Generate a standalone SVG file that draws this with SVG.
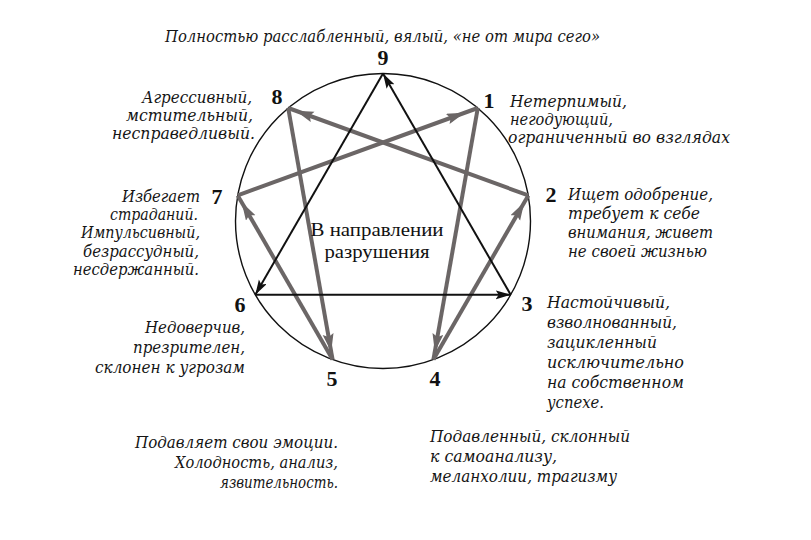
<svg xmlns="http://www.w3.org/2000/svg" width="811" height="540" viewBox="0 0 811 540">
<style>
.desc{font-family:"DejaVu Serif","Liberation Serif",serif;font-style:italic;font-size:16px;fill:#151515}
.num{font-family:"Liberation Serif","DejaVu Serif",serif;font-weight:bold;font-size:22px;fill:#111;text-anchor:middle}
.center{font-family:"Liberation Serif","DejaVu Serif",serif;font-size:18px;fill:#111;text-anchor:middle}
.end{text-anchor:end}
.blk{stroke:#111;stroke-width:2;fill:none}
.gry{stroke:#6b6666;stroke-width:4;fill:none}
</style>
<defs>
<marker id="ab" markerUnits="userSpaceOnUse" markerWidth="16" markerHeight="10" refX="15" refY="4.5" orient="auto">
<path d="M0,0 L15,4.5 L0,9 L3,4.5 z" fill="#111"/>
</marker>
<marker id="ag" markerUnits="userSpaceOnUse" markerWidth="30" markerHeight="12" refX="26" refY="5.5" orient="auto">
<path d="M0,0 L18,5.5 L0,11 L3,5.5 z" fill="#6b6666"/>
</marker>
<marker id="ag2" markerUnits="userSpaceOnUse" markerWidth="40" markerHeight="12" refX="32" refY="5.5" orient="auto">
<path d="M0,0 L18,5.5 L0,11 L3,5.5 z" fill="#6b6666"/>
</marker>
</defs>
<rect width="811" height="540" fill="#fff"/>
<circle id="circle" cx="383" cy="221" r="147.5" fill="none" stroke="#111" stroke-width="1.4"/>
<g id="connectors">
<line class="gry" x1="477.8" y1="108" x2="433.4" y2="359.6" marker-end="url(#ag)"/>
<line class="gry" x1="433.4" y1="359.6" x2="528.3" y2="195.4" marker-end="url(#ag)"/>
<line class="gry" x1="528.3" y1="195.4" x2="288.2" y2="108" marker-end="url(#ag)"/>
<line class="gry" x1="288.2" y1="108" x2="332.6" y2="359.6" marker-end="url(#ag)"/>
<line class="gry" x1="332.6" y1="359.6" x2="237.7" y2="195.4" marker-end="url(#ag)"/>
<line class="gry" x1="237.7" y1="195.4" x2="477.8" y2="108" marker-end="url(#ag2)"/>
<line class="blk" x1="383" y1="73.5" x2="255.3" y2="294.8" marker-end="url(#ab)"/>
<line class="blk" x1="255.3" y1="294.8" x2="510.7" y2="294.8" marker-end="url(#ab)"/>
<line class="blk" x1="510.7" y1="294.8" x2="383" y2="73.5" marker-end="url(#ab)"/>
</g>
<g id="center-label">
<text class="center" x="377" y="236" textLength="133" lengthAdjust="spacingAndGlyphs">В направлении</text>
<text class="center" x="377" y="258" textLength="105" lengthAdjust="spacingAndGlyphs">разрушения</text>
</g>
<g id="top-text">
<text class="desc" x="165" y="42" textLength="435" lengthAdjust="spacingAndGlyphs">Полностью расслабленный, вялый, «не от мира сего»</text>
</g>
<g id="node9"><text class="num" x="383" y="65">9</text></g>
<g id="node1">
<text class="num" x="489" y="108">1</text>
<text class="desc" x="510" y="107" textLength="117" lengthAdjust="spacingAndGlyphs">Нетерпимый,</text>
<text class="desc" x="510" y="125" textLength="103" lengthAdjust="spacingAndGlyphs">негодующий,</text>
<text class="desc" x="508" y="143" textLength="222" lengthAdjust="spacingAndGlyphs">ограниченный во взглядах</text>
</g>
<g id="node2">
<text class="num" x="551" y="202">2</text>
<text class="desc" x="568" y="200" textLength="145" lengthAdjust="spacingAndGlyphs">Ищет одобрение,</text>
<text class="desc" x="568" y="219" textLength="132" lengthAdjust="spacingAndGlyphs">требует к себе</text>
<text class="desc" x="568" y="238" textLength="145" lengthAdjust="spacingAndGlyphs">внимания, живет</text>
<text class="desc" x="568" y="257" textLength="139" lengthAdjust="spacingAndGlyphs">не своей жизнью</text>
</g>
<g id="node3">
<text class="num" x="527" y="311">3</text>
<text class="desc" x="547" y="308" textLength="123" lengthAdjust="spacingAndGlyphs">Настойчивый,</text>
<text class="desc" x="547" y="328" textLength="130" lengthAdjust="spacingAndGlyphs">взволнованный,</text>
<text class="desc" x="547" y="348" textLength="110" lengthAdjust="spacingAndGlyphs">зацикленный</text>
<text class="desc" x="547" y="368" textLength="137" lengthAdjust="spacingAndGlyphs">исключительно</text>
<text class="desc" x="547" y="388" textLength="137" lengthAdjust="spacingAndGlyphs">на собственном</text>
<text class="desc" x="547" y="408" textLength="57" lengthAdjust="spacingAndGlyphs">успехе.</text>
</g>
<g id="node4">
<text class="num" x="435" y="386">4</text>
<text class="desc" x="430" y="442" textLength="200" lengthAdjust="spacingAndGlyphs">Подавленный, склонный</text>
<text class="desc" x="430" y="462" textLength="127" lengthAdjust="spacingAndGlyphs">к самоанализу,</text>
<text class="desc" x="430" y="482" textLength="187" lengthAdjust="spacingAndGlyphs">меланхолии, трагизму</text>
</g>
<g id="node5">
<text class="num" x="332" y="386">5</text>
<text class="desc end" x="338" y="448" textLength="203" lengthAdjust="spacingAndGlyphs">Подавляет свои эмоции.</text>
<text class="desc end" x="338" y="468" textLength="163" lengthAdjust="spacingAndGlyphs">Холодность, анализ,</text>
<text class="desc end" x="338" y="488" textLength="118" lengthAdjust="spacingAndGlyphs">язвительность.</text>
</g>
<g id="node6">
<text class="num" x="240" y="312">6</text>
<text class="desc end" x="245" y="333" textLength="100" lengthAdjust="spacingAndGlyphs">Недоверчив,</text>
<text class="desc end" x="245" y="353" textLength="112" lengthAdjust="spacingAndGlyphs">презрителен,</text>
<text class="desc end" x="245" y="373" textLength="150" lengthAdjust="spacingAndGlyphs">склонен к угрозам</text>
</g>
<g id="node7">
<text class="num" x="217" y="204">7</text>
<text class="desc end" x="200" y="202" textLength="78" lengthAdjust="spacingAndGlyphs">Избегает</text>
<text class="desc end" x="198" y="220" textLength="88" lengthAdjust="spacingAndGlyphs">страданий.</text>
<text class="desc end" x="200" y="238" textLength="119" lengthAdjust="spacingAndGlyphs">Импульсивный,</text>
<text class="desc end" x="199" y="257" textLength="116" lengthAdjust="spacingAndGlyphs">безрассудный,</text>
<text class="desc end" x="199" y="275" textLength="126" lengthAdjust="spacingAndGlyphs">несдержанный.</text>
</g>
<g id="node8">
<text class="num" x="277" y="104">8</text>
<text class="desc end" x="252" y="103" textLength="110" lengthAdjust="spacingAndGlyphs">Агрессивный,</text>
<text class="desc end" x="253" y="121" textLength="127" lengthAdjust="spacingAndGlyphs">мстительный,</text>
<text class="desc end" x="255" y="139" textLength="143" lengthAdjust="spacingAndGlyphs">несправедливый.</text>
</g>
</svg>
